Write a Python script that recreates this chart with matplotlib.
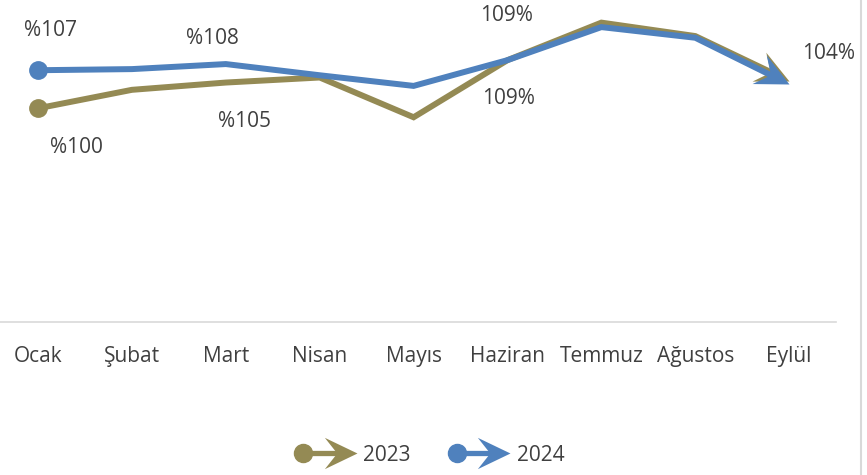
import numpy as np
import matplotlib
matplotlib.use("Agg")
import matplotlib.pyplot as plt
from matplotlib.path import Path
from matplotlib.markers import MarkerStyle
from matplotlib.transforms import Affine2D
from matplotlib.lines import Line2D
from matplotlib.legend_handler import HandlerBase

plt.rcParams["font.family"] = ["Open Sans", "DejaVu Sans"]

months = ["Ocak", "Şubat", "Mart", "Nisan", "Mayıs", "Haziran", "Temmuz", "Ağustos", "Eylül"]
y2023 = [100.0, 103.3, 104.6, 105.5, 98.4, 108.6, 115.3, 112.9, 104.9]
y2024 = [106.8, 107.0, 107.9, 105.9, 104.0, 108.6, 114.5, 112.6, 104.3]

# data labels shown on the chart (index -> text)
labels_2023 = {0: "%100", 2: "%105", 5: "109%"}
labels_2024 = {0: "%107", 2: "%108", 5: "109%", 8: "104%"}

# label offsets in pixels (style, not data)
offsets_2023 = {0: (38, -39), 2: (19, -39), 5: (1, -38)}
offsets_2024 = {0: (12, 40), 2: (-13, 26), 5: (-1, 45), 8: (39, 31)}

OLIVE = "#948A54"
BLUE = "#4F81BD"
TEXT = "#404040"
GRID = "#D9D9D9"
FS = 15

W, H = 867, 475
fig = plt.figure(figsize=(W / 100, H / 100), dpi=100)
ax = fig.add_axes([-8.9 / W, (H - 322) / H, 845 / W, 322 / H])
ax.set_xlim(-0.5, 8.5)
ax.set_ylim(61.84, 119.34)

ARROW = Path(
    [(0, 0), (-1, 0.48), (-0.62, 0), (-1, -0.48), (0, 0)],
    [Path.MOVETO, Path.LINETO, Path.LINETO, Path.LINETO, Path.CLOSEPOLY],
)


def arrow_marker(angle):
    return MarkerStyle(ARROW, transform=Affine2D().rotate_deg(angle))


def draw_series(values, color, zorder):
    x = np.arange(len(values))
    vals = np.asarray(values)
    pts = ax.transData.transform(np.column_stack([x, vals]))
    d = pts[-1] - pts[-2]
    angle = np.degrees(np.arctan2(d[1], d[0]))
    # stop the line inside the arrow head
    end = ax.transData.inverted().transform(pts[-1] - d / np.hypot(*d) * 16)
    lx = np.append(x[:-1], end[0])
    ly = np.append(vals[:-1], end[1])
    ax.plot(lx, ly, color=color, lw=4.3, solid_joinstyle="miter",
            solid_capstyle="butt", zorder=zorder, clip_on=False)
    ax.plot(x[0], vals[0], "o", ms=12.5, color=color, zorder=zorder, clip_on=False)
    ax.plot(x[-1], vals[-1], ls="", marker=arrow_marker(angle), ms=48,
            color=color, mew=0, zorder=zorder, clip_on=False)


draw_series(y2023, OLIVE, 3)
draw_series(y2024, BLUE, 4)

for labels, offsets, vals in [(labels_2023, offsets_2023, y2023),
                              (labels_2024, offsets_2024, y2024)]:
    for i, txt in labels.items():
        ax.annotate(txt, (i, vals[i]), xytext=offsets[i], textcoords="offset pixels",
                    ha="center", va="center", fontsize=FS, color=TEXT)

ax.set_xticks(range(len(months)), months)
ax.tick_params(axis="x", length=0, pad=17, labelsize=FS, labelcolor=TEXT)
ax.set_yticks([])
for s in ["top", "left", "right"]:
    ax.spines[s].set_visible(False)
ax.spines["bottom"].set_color(GRID)
ax.spines["bottom"].set_linewidth(1.2)

fig.add_artist(Line2D([861 / W, 861 / W], [0, 1], transform=fig.transFigure,
                      color=GRID, lw=1.5))


class ArrowHandler(HandlerBase):
    def create_artists(self, legend, orig_handle, xdescent, ydescent,
                       width, height, fontsize, trans):
        color = orig_handle.get_color()
        y = height / 2 - ydescent
        x0, x1 = -xdescent, width - xdescent
        line = Line2D([x0 + 6.5, x1 - 10], [y, y], color=color, lw=3.8)
        dot = Line2D([x0 + 6.5], [y], ls="", marker="o", ms=13, color=color)
        head = Line2D([x1], [y], ls="", marker=arrow_marker(0), ms=47,
                      color=color, mew=0)
        for a in (line, dot, head):
            a.set_transform(trans)
        return [line, dot, head]


handles = [Line2D([], [], color=OLIVE), Line2D([], [], color=BLUE)]
leg = fig.legend(handles, ["2023", "2024"], loc="center", bbox_to_anchor=(0.495, 0.042),
                 ncol=2, frameon=False, fontsize=FS, handlelength=3.0,
                 handletextpad=0.3, columnspacing=1.8,
                 handler_map={Line2D: ArrowHandler()})
for t in leg.get_texts():
    t.set_color(TEXT)

fig.savefig("out.png", dpi=100)
